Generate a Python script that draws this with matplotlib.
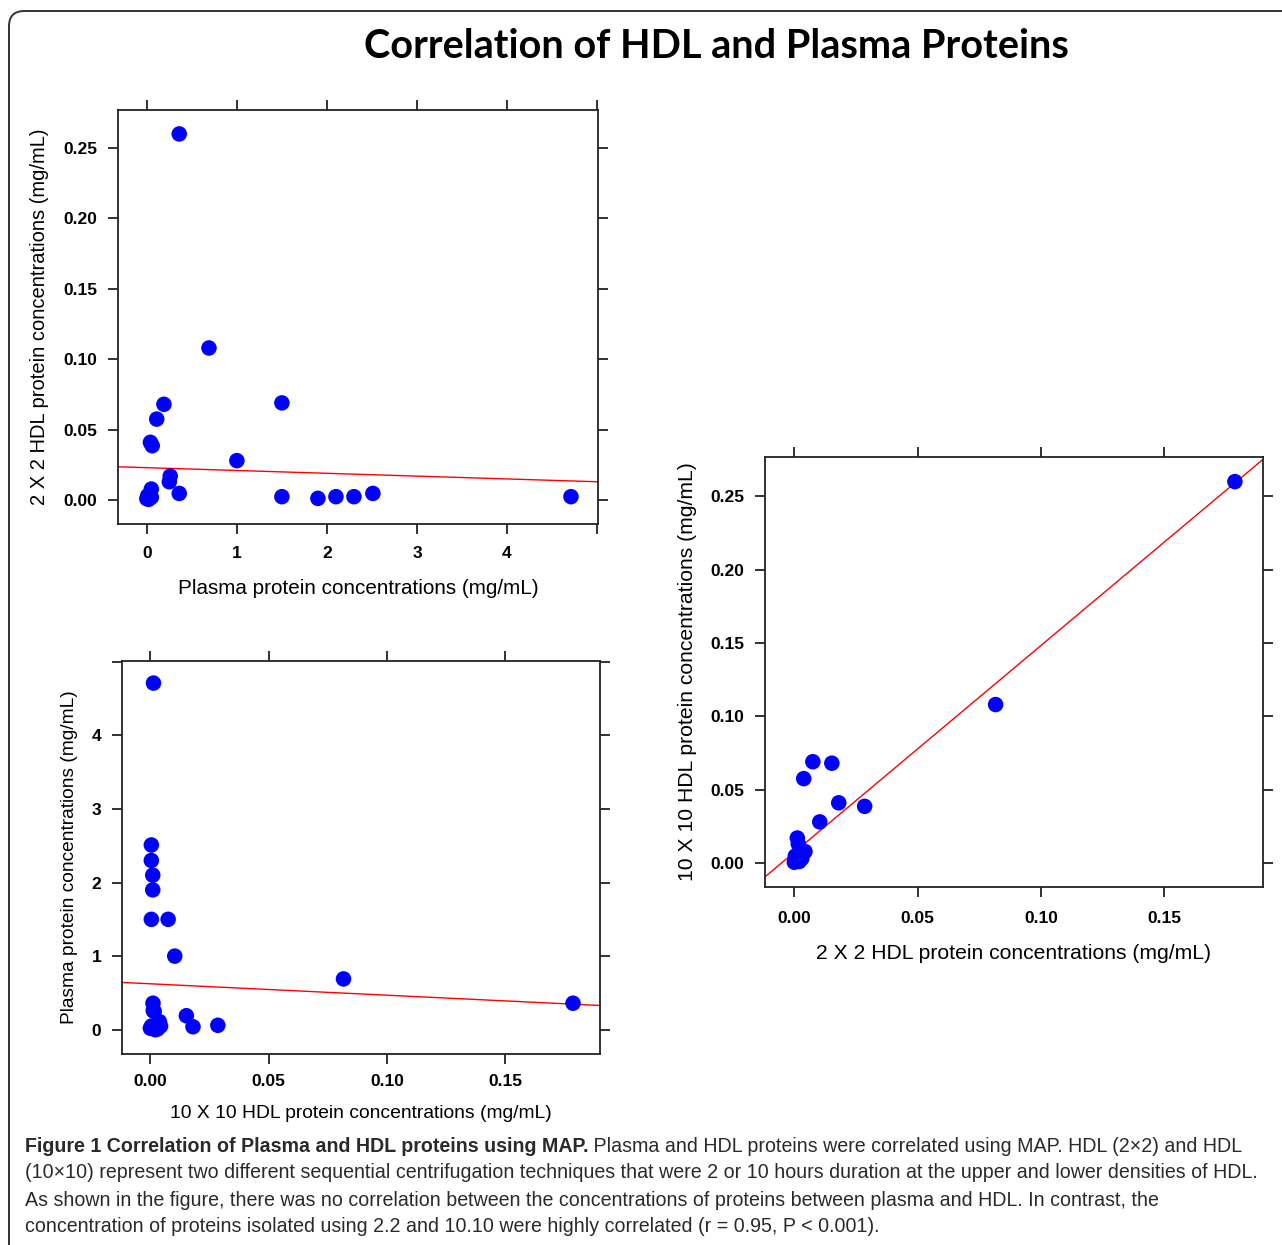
import matplotlib
matplotlib.use("Agg")
import matplotlib.pyplot as plt
from matplotlib.patches import FancyBboxPatch
import numpy as np

# samples: plasma protein, HDL (2x2 axis in panel 1), HDL (10x10 axis in panel 2)
plasma = [0.36, 0.69, 0.19, 1.50, 0.11, 0.04, 0.06, 1.00, 0.26, 0.25, 0.05,
          0.36, 1.50, 1.90, 2.10, 2.30, 2.51, 4.71, 0.02, 0.00, 0.05, 0.01]
hdl_a = [0.260, 0.108, 0.068, 0.069, 0.0575, 0.041, 0.0386, 0.028, 0.017, 0.013, 0.0078,
         0.0047, 0.0024, 0.0012, 0.0024, 0.0024, 0.0047, 0.0024, 0.0005, 0.0010, 0.0020, 0.0030]
hdl_b = [0.1786, 0.0816, 0.0152, 0.0075, 0.0038, 0.0180, 0.0285, 0.0103, 0.0012, 0.0016, 0.0043,
         0.0011, 0.0004, 0.0010, 0.0010, 0.0004, 0.0004, 0.0013, 0.0000, 0.0020, 0.0005, 0.0030]

# fitted lines (intercept, slope)
fit1 = (0.023, -0.002)
fit2 = (0.624, -1.55)
fit3 = (0.0073, 1.41)

title = "Correlation of HDL and Plasma Proteins"
lab_plasma = "Plasma protein concentrations (mg/mL)"
lab_2x2 = "2 X 2 HDL protein concentrations (mg/mL)"
lab_10x10 = "10 X 10 HDL protein concentrations (mg/mL)"

cap_bold = "Figure 1 Correlation of Plasma and HDL proteins using MAP."
cap_lines = [
    " Plasma and HDL proteins were correlated using MAP. HDL (2\u00d72) and HDL",
    "(10\u00d710) represent two different sequential centrifugation techniques that were 2 or 10 hours duration at the upper and lower densities of HDL.",
    "As shown in the figure, there was no correlation between the concentrations of proteins between plasma and HDL. In contrast, the",
    "concentration of proteins isolated using 2.2 and 10.10 were highly correlated (r = 0.95, P < 0.001).",
]

W, H = 1282, 1245
fig = plt.figure(figsize=(W / 100, H / 100), dpi=100)
fig.patch.set_facecolor("white")

# rounded frame around the figure
frame = FancyBboxPatch((9 / W, -0.05), 1.2, 1 - 11 / H + 0.05,
                       boxstyle="round,pad=0,rounding_size=0.012",
                       transform=fig.transFigure, fill=False,
                       edgecolor="#333333", linewidth=1.4, mutation_aspect=W / H)
fig.patches.append(frame)

fig.text(716 / W, 1 - 46 / H, title, ha="center", va="center",
         fontsize=28.5, fontweight="bold", family="Lato")


def px_axes(l, t, r, b):
    return fig.add_axes([l / W, 1 - b / H, (r - l) / W, (b - t) / H])


def style(ax, xpad):
    for s in ax.spines.values():
        s.set_linewidth(1.3)
        s.set_color("#222222")
    ax.tick_params(direction="out", length=7.5, width=1.3, color="#222222",
                   top=True, right=True, labeltop=False, labelright=False,
                   labelsize=12.5, pad=7.5)
    ax.tick_params(axis="x", pad=xpad)
    for lab in ax.get_xticklabels() + ax.get_yticklabels():
        lab.set_fontweight("bold")
        lab.set_family("Liberation Sans")


def draw(ax, x, y, fit, xlim, ylim):
    ax.set_xlim(xlim)
    ax.set_ylim(ylim)
    xx = np.array(xlim)
    ax.plot(xx, fit[0] + fit[1] * xx, color="red", lw=1.0, zorder=2)
    ax.scatter(x, y, s=125, color="#0000ff", edgecolors="none", zorder=3)


fam = "Liberation Sans"

# panel 1: plasma vs HDL 2x2
ax1 = px_axes(118, 110, 598, 524)
draw(ax1, plasma, hdl_a, fit1, (-0.32, 5.01), (-0.017, 0.277))
ax1.set_xticks([0, 1, 2, 3, 4, 5])
ax1.set_xticklabels(["0", "1", "2", "3", "4", ""])
ax1.set_yticks([0, 0.05, 0.10, 0.15, 0.20, 0.25])
ax1.set_yticklabels(["0.00", "0.05", "0.10", "0.15", "0.20", "0.25"])
style(ax1, 8.5)
ax1.set_xlabel(lab_plasma, labelpad=12.5, fontsize=14.9, family=fam)
ax1.set_ylabel(lab_2x2, labelpad=10, fontsize=14.5, family=fam)

# panel 2: HDL 10x10 vs plasma
ax2 = px_axes(122, 661, 600, 1054)
draw(ax2, hdl_b, plasma, fit2, (-0.012, 0.19), (-0.33, 5.01))
ax2.set_xticks([0, 0.05, 0.10, 0.15])
ax2.set_xticklabels(["0.00", "0.05", "0.10", "0.15"])
ax2.set_yticks([0, 1, 2, 3, 4, 5])
ax2.set_yticklabels(["0", "1", "2", "3", "4", ""])
style(ax2, 7)
ax2.set_xlabel(lab_10x10, labelpad=11.5, fontsize=13.9, family=fam)
ax2.set_ylabel(lab_plasma, labelpad=9.5, fontsize=13.8, family=fam)

# panel 3: HDL vs HDL
ax3 = px_axes(765, 457, 1263, 887)
draw(ax3, hdl_b, hdl_a, fit3, (-0.0119, 0.19), (-0.0164, 0.2768))
ax3.set_xticks([0, 0.05, 0.10, 0.15])
ax3.set_xticklabels(["0.00", "0.05", "0.10", "0.15"])
ax3.set_yticks([0, 0.05, 0.10, 0.15, 0.20, 0.25])
ax3.set_yticklabels(["0.00", "0.05", "0.10", "0.15", "0.20", "0.25"])
style(ax3, 10)
ax3.set_xlabel(lab_2x2, labelpad=12.5, fontsize=15.2, family=fam)
ax3.set_ylabel(lab_10x10, labelpad=9.5, fontsize=15.2, family=fam)

# caption
cap_font = dict(fontsize=14.1, family=fam, color="#2a2a2a")
line_y = [1147, 1173, 1200, 1226]
renderer = fig.canvas.get_renderer()
tb = fig.text(25 / W, 1 - line_y[0] / H, cap_bold, ha="left", va="center",
              fontweight="bold", **cap_font)
bb = tb.get_window_extent(renderer)
fig.text(bb.x1 / W, 1 - line_y[0] / H, cap_lines[0], ha="left", va="center", **cap_font)
for yy, txt in zip(line_y[1:], cap_lines[1:]):
    fig.text(25 / W, 1 - yy / H, txt, ha="left", va="center", **cap_font)

fig.savefig("out.png", dpi=100)
